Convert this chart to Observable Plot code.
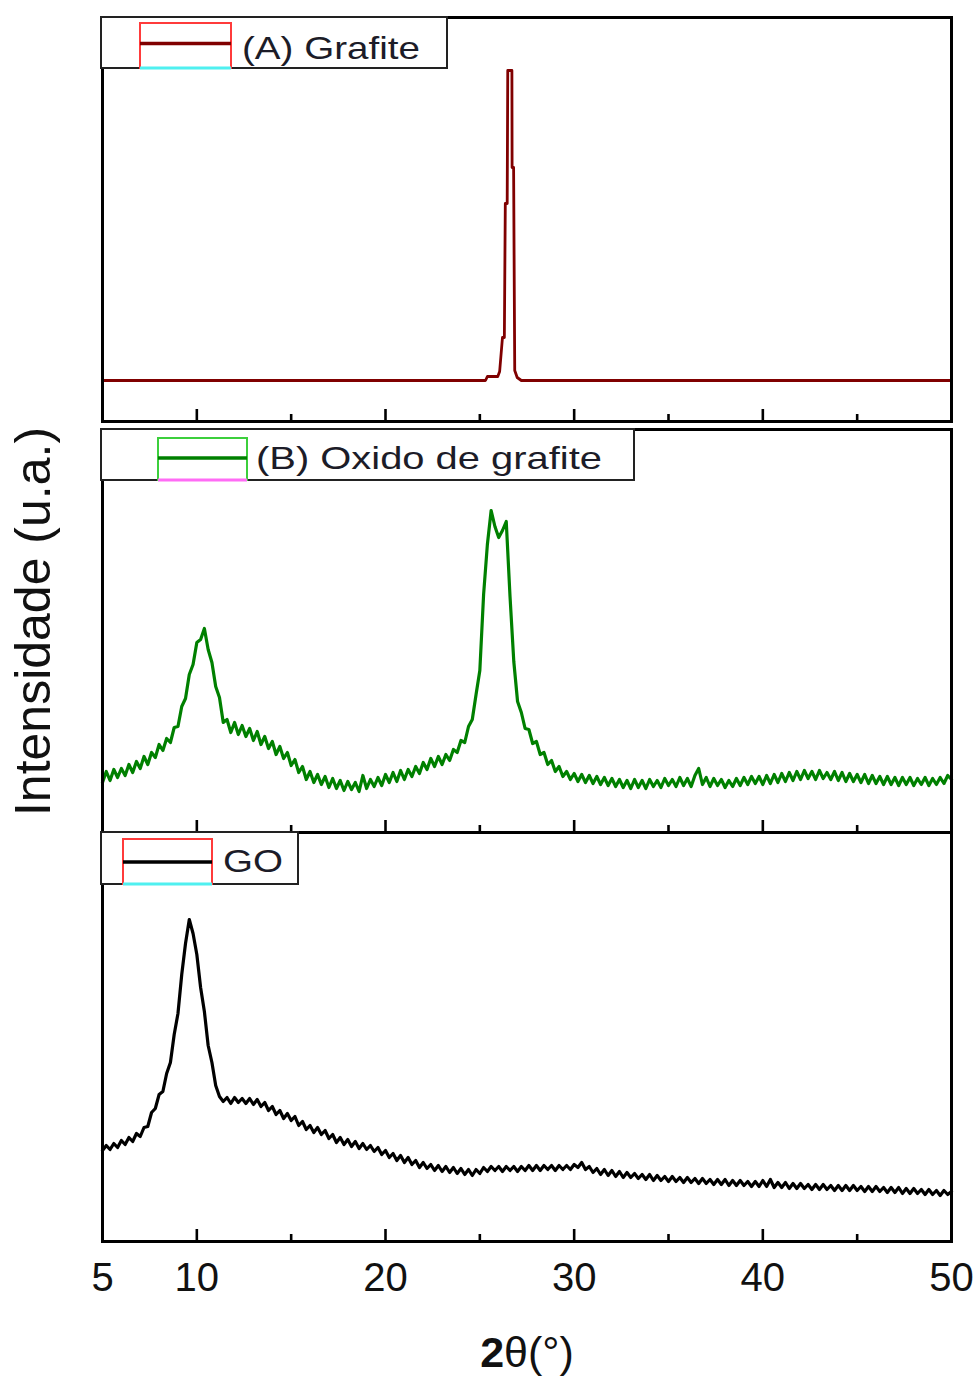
<!DOCTYPE html>
<html>
<head>
<meta charset="utf-8">
<script src="https://cdn.jsdelivr.net/npm/d3@7"></script>
<script src="https://cdn.jsdelivr.net/npm/@observablehq/plot@0.6"></script>
<style>
html, body { margin: 0; padding: 0; background: #fff; }
#chart { position: relative; width: 977px; height: 1376px; background: #fff; overflow: hidden; }
#chart svg { position: absolute; left: 0; }
</style>
</head>
<body>
<div id="chart"></div>
<script>
// ---------------- data ----------------
const xDomain = [5, 50];
const ticksMajor = [10, 20, 30, 40, 50];
const ticksMinor = [15, 25, 35, 45];
const tickLabels = [5, 10, 20, 30, 40, 50];
const xLabel = "2θ(°)";
const yLabel = "Intensidade (u.a.)";
const seriesNames = ["(A) Grafite", "(B) Oxido de grafite", "GO"];
const seriesColors = ["#800000", "#008000", "#000000"];

// (A) Grafite: irregular sampling around the sharp (002) reflection
const grafiteX = [5, 15, 24, 25.3, 25.4, 25.95, 26.05, 26.2, 26.3, 26.35, 26.45, 26.48, 26.7, 26.71, 26.79, 26.85, 26.98, 27.2, 35, 50];
const grafiteY = [41, 41, 41, 41, 45, 45, 50, 84, 84, 218, 218, 351, 351, 254, 254, 51, 44, 41, 41, 41];

// (B) and GO: step scan from 5.0 to 50.0 deg, step 0.2 deg (one row = 1 deg)
const scanStart = 5, scanStep = 0.2;
const oxidoY = [
  50, 61, 52, 63, 55,   // 5
  64, 57, 68, 60, 71,   // 6
  64, 76, 68, 80, 75,   // 7
  88, 82, 94, 90, 105,  // 8
  106, 126, 134, 158, 168, // 9
  190, 193, 204, 183, 170, // 10
  146, 135, 110, 113, 100, // 11
  110, 98, 107, 96, 104,   // 12
  92, 101, 88, 96, 84,     // 13
  91, 78, 86, 74, 80,      // 14
  67, 73, 60, 66, 53,      // 15
  61, 50, 58, 48, 56,      // 16
  45, 54, 44, 52, 42,      // 17
  51, 43, 50, 41, 57,      // 18
  44, 53, 46, 55, 47,      // 19
  58, 50, 60, 51, 62,      // 20
  53, 63, 56, 66, 59,      // 21
  70, 63, 74, 66, 76,      // 22
  68, 78, 72, 83, 80,      // 23
  92, 90, 106, 113, 138,   // 24
  162, 238, 288, 322, 306, // 25
  295, 302, 311, 236, 171, // 26
  131, 120, 104, 103, 89,  // 27
  91, 78, 80, 68, 72,      // 28
  61, 66, 56, 61, 53,      // 29
  59, 51, 58, 50, 57,      // 30
  49, 56, 48, 55, 47,      // 31
  54, 46, 53, 45, 52,      // 32
  44, 53, 45, 52, 44,      // 33
  53, 46, 52, 45, 54,      // 34
  47, 53, 46, 55, 47,      // 35
  54, 46, 57, 64, 48,      // 36
  55, 46, 54, 47, 53,      // 37
  45, 52, 46, 54, 47,      // 38
  55, 48, 56, 49, 56,      // 39
  48, 57, 49, 58, 50,      // 40
  59, 51, 60, 52, 61,      // 41
  53, 62, 54, 61, 53,      // 42
  62, 54, 60, 53, 61,      // 43
  52, 60, 51, 59, 51,      // 44
  58, 50, 58, 49, 57,      // 45
  49, 56, 48, 56, 48,      // 46
  55, 47, 55, 48, 55,      // 47
  47, 54, 48, 55, 47,      // 48
  54, 48, 55, 49, 57,      // 49
  53                       // 50
];
const goY = [
  91, 96, 92, 98, 94,      // 5
  101, 97, 104, 100, 108,  // 6
  105, 114, 115, 129, 133, // 7
  147, 150, 168, 179, 207, // 8
  228, 267, 298, 322, 308, // 9
  287, 254, 230, 196, 179, // 10
  156, 145, 140, 144, 138, // 11
  144, 139, 143, 138, 143, // 12
  137, 142, 135, 139, 131, // 13
  135, 127, 131, 123, 128, // 14
  121, 125, 116, 120, 112, // 15
  116, 109, 114, 107, 111, // 16
  103, 107, 99, 104, 97,   // 17
  102, 95, 100, 93, 98,    // 18
  92, 96, 90, 94, 87,      // 19
  91, 84, 88, 81, 86,      // 20
  79, 84, 77, 81, 74,      // 21
  79, 73, 77, 71, 76,      // 22
  70, 75, 69, 74, 68,      // 23
  73, 67, 72, 66, 72,      // 24
  68, 74, 70, 75, 71,      // 25
  75, 70, 75, 71, 75,      // 26
  70, 75, 71, 76, 71,      // 27
  76, 71, 76, 72, 76,      // 28
  71, 76, 72, 76, 72,      // 29
  77, 74, 79, 72, 75,      // 30
  69, 73, 67, 72, 66,      // 31
  71, 65, 70, 64, 69,      // 32
  64, 68, 63, 67, 62,      // 33
  67, 61, 66, 61, 65,      // 34
  60, 65, 60, 64, 59,      // 35
  64, 59, 63, 58, 63,      // 36
  58, 62, 57, 62, 57,      // 37
  62, 56, 61, 56, 61,      // 38
  56, 60, 55, 60, 55,      // 39
  61, 55, 62, 54, 59,      // 40
  54, 59, 53, 58, 53,      // 41
  58, 53, 57, 52, 57,      // 42
  52, 57, 52, 56, 51,      // 43
  56, 51, 56, 51, 56,      // 44
  51, 55, 50, 55, 50,      // 45
  55, 50, 54, 49, 54,      // 46
  49, 54, 48, 53, 48,      // 47
  53, 48, 52, 47, 52,      // 48
  47, 51, 46, 51, 47,      // 49
  50                       // 50
];

// ---------------- build ----------------
const grafite = grafiteX.map((x, i) => ({x, y: grafiteY[i]}));
const oxido = oxidoY.map((y, i) => ({x: +(scanStart + i * scanStep).toFixed(1), y}));
const go = goY.map((y, i) => ({x: +(scanStart + i * scanStep).toFixed(1), y}));

const W = 977;
const FONT = "'Liberation Sans', Arial, Helvetica, sans-serif";
const chart = document.getElementById("chart");

function panel({data, color, lineW, top, height, mTop, mBottom, frameH, axis = false, extra = []}) {
  const svg = Plot.plot({
    width: W,
    height,
    marginLeft: 102,
    marginRight: 26,
    marginTop: mTop,
    marginBottom: mBottom,
    style: {fontFamily: FONT, fontSize: "40px", color: "#111", background: "transparent", overflow: "visible"},
    x: axis
      ? {domain: xDomain, ticks: tickLabels, tickSize: 0, tickPadding: 21, tickFormat: d => String(d), label: null}
      : {domain: xDomain, axis: null},
    y: {domain: [0, frameH], axis: null},
    marks: [
      Plot.line(data, {x: "x", y: "y", stroke: color, strokeWidth: lineW, strokeLinejoin: "round"}),
      Plot.ruleX(ticksMajor, {x: d => d, y1: 0, y2: 12, stroke: "#000", strokeWidth: 2.6}),
      Plot.ruleX(ticksMinor, {x: d => d, y1: 0, y2: 7, stroke: "#000", strokeWidth: 2.6}),
      ...extra,
      Plot.frame({stroke: "#000", strokeWidth: 3})
    ]
  });
  svg.style.top = top + "px";
  chart.appendChild(svg);
  return svg;
}

function addLegend(svg, L) {
  const g = d3.select(svg).append("g").attr("transform", `translate(${L.x},${L.y})`);
  g.append("rect").attr("x", 0).attr("y", 0).attr("width", L.w).attr("height", L.h)
    .attr("fill", "#fff").attr("stroke", "#222").attr("stroke-width", 2);
  g.append("rect").attr("x", L.sx0).attr("y", L.sTop).attr("width", L.sx1 - L.sx0).attr("height", L.h - L.sTop)
    .attr("fill", "none").attr("stroke", L.rectColor).attr("stroke-width", 2);
  g.append("line").attr("x1", L.sx0).attr("x2", L.sx1).attr("y1", L.h).attr("y2", L.h)
    .attr("stroke", L.bottomColor).attr("stroke-width", 3);
  g.append("line").attr("x1", L.sx0).attr("x2", L.sx1).attr("y1", L.lineY).attr("y2", L.lineY)
    .attr("stroke", L.color).attr("stroke-width", 3.5);
  g.append("text").attr("x", L.tx).attr("y", L.baseline)
    .attr("text-anchor", "start")
    .attr("font-family", FONT).attr("font-size", 32).attr("fill", "#1c1c28")
    .attr("textLength", L.tl).attr("lengthAdjust", "spacingAndGlyphs")
    .text(L.label);
}

// Panel A
const svgA = panel({data: grafite, color: seriesColors[0], lineW: 2.8, top: 0, height: 430, mTop: 17, mBottom: 9, frameH: 404});
addLegend(svgA, {x: 101, y: 17, w: 346, h: 51, sx0: 39, sx1: 130, sTop: 6, lineY: 26.5,
  color: seriesColors[0], rectColor: "#ff3b3b", bottomColor: "#4ff0f0", tx: 141, baseline: 42, tl: 178, label: seriesNames[0]});

// Panel B (carries the y label)
const svgB = panel({data: oxido, color: seriesColors[1], lineW: 3.2, top: 420, height: 420, mTop: 9, mBottom: 8, frameH: 403,
  extra: [Plot.text([yLabel], {frameAnchor: "left", rotate: -90, dx: -68.5, dy: -9.5, fontSize: 50, lineAnchor: "middle", textAnchor: "middle", fill: "#111"})]});
addLegend(svgB, {x: 101, y: 9, w: 533, h: 51, sx0: 57, sx1: 146, sTop: 9, lineY: 29,
  color: seriesColors[1], rectColor: "#3ccf3c", bottomColor: "#ff6cf5", tx: 155, baseline: 39.5, tl: 346, label: seriesNames[1]});

// Panel C (carries the x axis)
const svgC = panel({data: go, color: seriesColors[2], lineW: 3.2, top: 826, height: 550, mTop: 6, mBottom: 135, frameH: 409, axis: true,
  extra: [Plot.text([xLabel], {frameAnchor: "bottom", dy: 112, fontSize: 43, lineAnchor: "middle", textAnchor: "middle", fill: "#111"})]});
addLegend(svgC, {x: 101, y: 6, w: 197, h: 52, sx0: 22, sx1: 111, sTop: 7, lineY: 30,
  color: seriesColors[2], rectColor: "#ff3b3b", bottomColor: "#4ff0f0", tx: 122, baseline: 40, tl: 60, label: seriesNames[2]});

// bold "2" in the x label
d3.select(svgC).selectAll("text").filter(function() { return this.textContent === xLabel; }).each(function() {
  const t = d3.select(this);
  t.text(null);
  t.append("tspan").attr("font-weight", "bold").text("2");
  t.append("tspan").text("θ(°)");
});
</script>
</body>
</html>
